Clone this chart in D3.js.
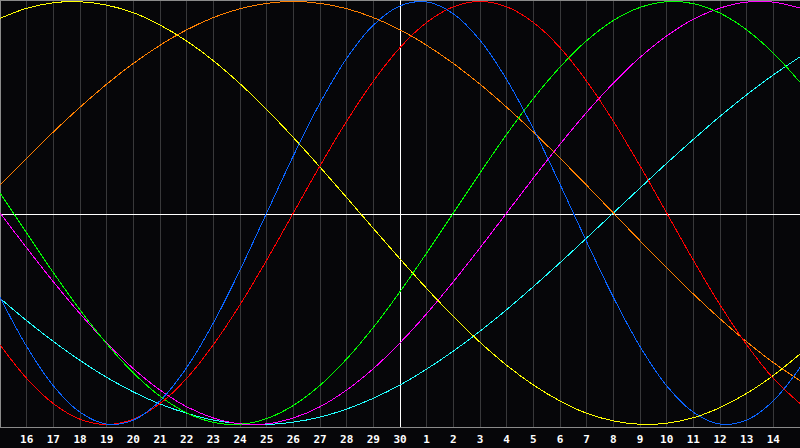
<!DOCTYPE html>
<html>
<head>
<meta charset="utf-8">
<script src="https://cdn.jsdelivr.net/npm/d3@7"></script>
<style>
  html, body { margin: 0; padding: 0; background: #060609; }
  svg { display: block; }
</style>
</head>
<body>
<div id="chart"></div>
<script>
// Day labels (index 1..29 along the axis; index 0 and 30 are the edges)
const dayLabels = ["16","17","18","19","20","21","22","23","24","25","26","27","28","29","30",
                   "1","2","3","4","5","6","7","8","9","10","11","12","13","14"];
const todayIndex = 15; // "30"

// Series values, one per day index 0..30 (range -1..1)
const physical = [-0.398,-0.631,-0.817,-0.942,-0.998,-0.979,-0.888,-0.731,-0.520,-0.270,0,
                  0.270,0.520,0.731,0.888,0.979,0.998,0.942,0.817,0.631,0.398,0.136,-0.136,
                  -0.398,-0.631,-0.817,-0.942,-0.998,-0.979,-0.888,-0.731];
const emotional = [-0.623,-0.782,-0.901,-0.975,-1,-0.975,-0.901,-0.782,-0.623,-0.434,-0.223,0,
                   0.223,0.434,0.623,0.782,0.901,0.975,1,0.975,0.901,0.782,0.623,0.434,0.223,0,
                   -0.223,-0.434,-0.623,-0.782,-0.901];
const intellectual = [0.095,-0.095,-0.282,-0.458,-0.618,-0.756,-0.866,-0.945,-0.990,-0.999,-0.972,
                      -0.910,-0.815,-0.690,-0.541,-0.372,-0.189,0,0.189,0.372,0.541,0.690,0.815,
                      0.910,0.972,0.999,0.990,0.945,0.866,0.756,0.618];
const intuitive = [0,-0.165,-0.325,-0.476,-0.614,-0.736,-0.837,-0.916,-0.969,-0.997,-0.997,-0.969,
                   -0.916,-0.837,-0.736,-0.614,-0.476,-0.325,-0.165,0,0.165,0.325,0.476,0.614,
                   0.736,0.837,0.916,0.969,0.997,0.997,0.969];
const aesthetic = [0.920,0.968,0.994,0.999,0.983,0.947,0.889,0.813,0.720,0.611,0.489,0.357,0.217,
                   0.073,-0.073,-0.217,-0.357,-0.489,-0.611,-0.720,-0.813,-0.889,-0.947,-0.983,
                   -0.999,-0.994,-0.968,-0.920,-0.853,-0.768,-0.667];
const awareness = [0.131,0.259,0.383,0.5,0.609,0.707,0.793,0.866,0.924,0.966,0.991,1,0.991,0.966,
                   0.924,0.866,0.793,0.707,0.609,0.5,0.383,0.259,0.131,0,-0.131,-0.259,-0.383,
                   -0.5,-0.609,-0.707,-0.793];
const spiritual = [-0.403,-0.509,-0.607,-0.697,-0.777,-0.846,-0.903,-0.947,-0.979,-0.996,-1.000,
                   -0.989,-0.965,-0.927,-0.876,-0.813,-0.738,-0.653,-0.559,-0.457,-0.348,-0.235,
                   -0.118,0,0.118,0.235,0.348,0.457,0.559,0.653,0.738];

const seriesNames = ["spiritual","intuitive","awareness","aesthetic","intellectual","emotional","physical"];
const seriesValues = [spiritual, intuitive, awareness, aesthetic, intellectual, emotional, physical];
const seriesColors = ["#22ffff","#ff00ff","#ff8000","#ffff00","#00ff00","#ff0000","#0a64ff"];

const W = 800, H = 448;
const plotBottom = 427;

const svg = d3.select("#chart").append("svg")
  .attr("width", W).attr("height", H);

svg.append("rect").attr("x",0).attr("y",0).attr("width",W).attr("height",H).attr("fill","#060609");

const x = d3.scaleLinear().domain([0, 30]).range([0, 800]);
const y = d3.scaleLinear().domain([-1, 1]).range([424.5, 1.5]);

// vertical grid lines
const gridIdx = d3.range(1, 30);
svg.append("g").selectAll("line").data(gridIdx).join("line")
  .attr("x1", d => Math.floor(x(d)) + 0.5).attr("x2", d => Math.floor(x(d)) + 0.5)
  .attr("y1", 0).attr("y2", plotBottom)
  .attr("stroke", "#38383a").attr("stroke-width", 1)
  .attr("shape-rendering", "crispEdges");

// border (left, top, bottom)
svg.append("path")
  .attr("d", `M800,0.5H0.5V${plotBottom + 0.5}H800`)
  .attr("fill", "none").attr("stroke", "#8a8a8a").attr("stroke-width", 1)
  .attr("shape-rendering", "crispEdges");

// center horizontal line & today line
svg.append("line")
  .attr("x1", 1).attr("x2", 800)
  .attr("y1", Math.floor(y(0)) + 1.5).attr("y2", Math.floor(y(0)) + 1.5)
  .attr("stroke", "#ffffff").attr("stroke-width", 1).attr("shape-rendering", "crispEdges");
svg.append("line")
  .attr("x1", Math.floor(x(todayIndex)) + 0.5).attr("x2", Math.floor(x(todayIndex)) + 0.5)
  .attr("y1", 0).attr("y2", plotBottom)
  .attr("stroke", "#ffffff").attr("stroke-width", 1).attr("shape-rendering", "crispEdges");

// curves
const line = d3.line()
  .x((d, i) => x(i))
  .y(d => y(d))
  .curve(d3.curveCatmullRom.alpha(0.5));

svg.append("g").selectAll("path").data(seriesValues).join("path")
  .attr("d", d => line(d))
  .attr("fill", "none")
  .attr("stroke", (d, i) => seriesColors[i])
  .attr("stroke-width", 1)
  .attr("shape-rendering", "crispEdges");

// x-axis labels
svg.append("g").selectAll("text").data(dayLabels).join("text")
  .attr("x", (d, i) => x(i + 1))
  .attr("y", 443)
  .attr("text-anchor", "middle")
  .attr("fill", "#ffffff")
  .attr("font-family", "'DejaVu Sans Mono', 'Liberation Mono', monospace")
  .attr("font-weight", "bold")
  .attr("font-size", "11px")
  .text(d => d);
</script>
</body>
</html>
